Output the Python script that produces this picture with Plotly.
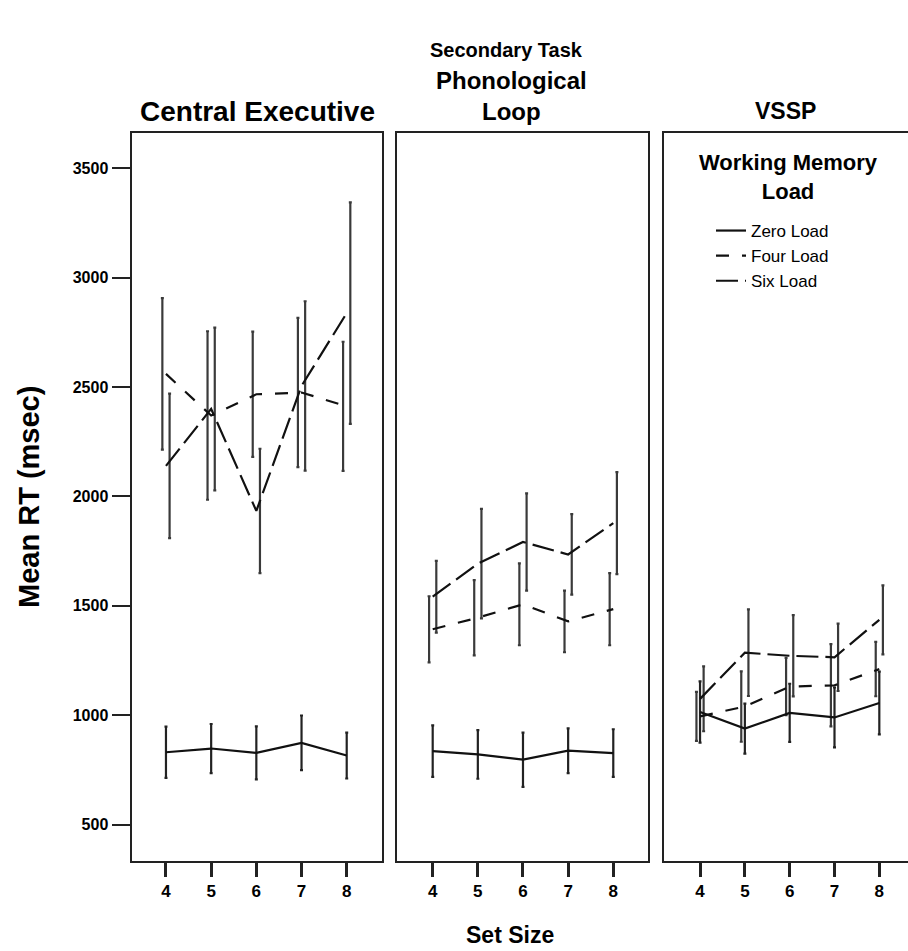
import plotly.graph_objects as go

set_size = [4, 5, 6, 7, 8]
panels = ["Central Executive", "Phonological", "Loop", "VSSP"]
series = ["Zero Load", "Four Load", "Six Load"]
legend_title = ["Working Memory", "Load"]

# Mean RT (msec) per panel
ce_zero = [831, 848, 828, 874, 816]
ce_four = [2560, 2370, 2467, 2475, 2412]
ce_six = [2140, 2400, 1934, 2505, 2838]
pl_zero = [836, 821, 797, 838, 827]
pl_four = [1393, 1446, 1507, 1429, 1485]
pl_six = [1542, 1693, 1792, 1735, 1878]
vs_zero = [1015, 939, 1011, 990, 1056]
vs_four = [995, 1040, 1131, 1137, 1211]
vs_six = [1075, 1286, 1272, 1265, 1436]

# Error bar half-widths (msec)
ce_zero_err = [117, 112, 121, 125, 105]
ce_four_err = [346, 385, 286, 341, 295]
ce_six_err = [330, 372, 284, 387, 506]
pl_zero_err = [118, 111, 124, 102, 109]
pl_four_err = [151, 172, 187, 141, 165]
pl_six_err = [164, 250, 222, 184, 233]
vs_zero_err = [140, 114, 133, 137, 143]
vs_four_err = [112, 161, 131, 188, 124]
vs_six_err = [148, 198, 186, 154, 158]

y_ticks = [500, 1000, 1500, 2000, 2500, 3000, 3500]

data = [
    [(ce_zero, ce_zero_err), (ce_four, ce_four_err), (ce_six, ce_six_err)],
    [(pl_zero, pl_zero_err), (pl_four, pl_four_err), (pl_six, pl_six_err)],
    [(vs_zero, vs_zero_err), (vs_four, vs_four_err), (vs_six, vs_six_err)],
]

dashes = ["solid", "13px,13px", "22px,7px"]
offsets = [0.0, -0.08, 0.08]
err_colors = ["#222222", "#3a3a3a", "#3a3a3a"]

FONT = "Liberation Sans, Arial, sans-serif"

fig = go.Figure()
for p in range(3):
    xa = "x" if p == 0 else f"x{p+1}"
    ya = "y" if p == 0 else f"y{p+1}"
    for s in range(3):
        vals, errs = data[p][s]
        fig.add_trace(go.Scatter(
            x=[v + offsets[s] for v in set_size], y=vals, mode="markers",
            marker=dict(size=1, color="rgba(0,0,0,0)"),
            error_y=dict(type="data", array=errs, color=err_colors[s],
                         thickness=2.2, width=1.5),
            xaxis=xa, yaxis=ya, showlegend=False, hoverinfo="skip"))
    for s in range(3):
        vals, errs = data[p][s]
        fig.add_trace(go.Scatter(
            x=set_size, y=vals, mode="lines", name=series[s],
            line=dict(color="#111111", width=2.2, dash=dashes[s]),
            xaxis=xa, yaxis=ya, showlegend=(p == 0)))

W = 777.0
doms = [[0.5 / W, 250.5 / W], [266.3 / W, 517 / W], [533 / W, 1.0]]
xranges = [[3.237, 8.77], [3.216, 8.769], [3.196, 8.64]]
yr = [334, 3661]

axis_common = dict(showgrid=False, zeroline=False, showline=True,
                   linecolor="#222222", linewidth=2)
for p in range(3):
    key = "xaxis" if p == 0 else f"xaxis{p+1}"
    fig.layout[key] = dict(
        domain=doms[p], range=xranges[p], tickvals=set_size,
        ticktext=[str(v) for v in set_size], ticks="outside", ticklen=14,
        tickwidth=3, tickcolor="#222222", mirror=True,
        anchor="y" if p == 0 else f"y{p+1}",
        tickfont=dict(family=FONT, size=17, color="black", weight="bold"),
        **axis_common)
    ykey = "yaxis" if p == 0 else f"yaxis{p+1}"
    fig.layout[ykey] = dict(
        domain=[0, 1], range=yr, tickvals=y_ticks,
        ticktext=[str(v) for v in y_ticks],
        showticklabels=(p == 0), ticks="outside" if p == 0 else "",
        ticklen=18, tickwidth=2, tickcolor="#222222",
        mirror=(p < 2), anchor="x" if p == 0 else f"x{p+1}",
        tickfont=dict(family=FONT, size=16, color="black", weight="bold"),
        **axis_common)

def py(Y):
    return (861 - Y) / 728.0

def px(X):
    return (X - 131) / W

def label(text, X, Y, size, angle=0):
    return dict(text=f"<b>{text}</b>", x=px(X), y=py(Y), xref="paper", yref="paper",
                showarrow=False, xanchor="center", yanchor="middle",
                textangle=angle, font=dict(family=FONT, size=size, color="black"))

ann = [
    label("Secondary Task", 506, 50, 20),
    label(panels[0], 257, 111, 28),
    label(panels[1] + "<br>" + panels[2], 511, 96, 24),
    label(panels[3], 785, 111, 23),
    label("Set Size", 510, 935, 23),
    label("Mean RT (msec)", 29, 497, 29, angle=-90),
    label(legend_title[0] + "<br>" + legend_title[1], 788, 177, 22),
]

fig.update_layout(
    width=908, height=951, autosize=False,
    margin=dict(l=131, r=0, t=133, b=90, pad=0),
    paper_bgcolor="white", plot_bgcolor="white",
    font=dict(family=FONT, color="black"),
    annotations=ann,
    legend=dict(
        x=px(711), y=py(213), xanchor="left", yanchor="top",
        bgcolor="rgba(0,0,0,0)",
        font=dict(family=FONT, size=17, color="black"),
        itemwidth=30, tracegroupgap=0,
    ),
)

fig.write_html(
    "out.html",
    config={"displayModeBar": False},
    post_script="document.body.style.margin='0';document.body.style.padding='0';",
)
